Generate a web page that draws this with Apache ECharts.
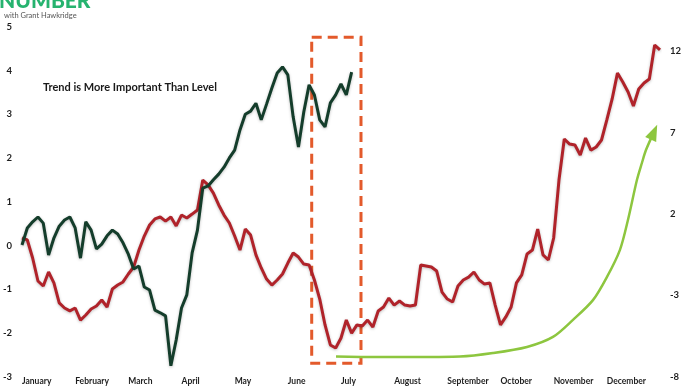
<!DOCTYPE html>
<html lang="en">
<head>
<meta charset="UTF-8">
<title>Trend is More Important Than Level</title>
<style>
    * { margin: 0; padding: 0; }
    body { background: #fff; }
    #main { width: 690px; height: 388px; }
</style>
<script src="https://cdn.jsdelivr.net/npm/echarts@6/dist/echarts.min.js"></script>
</head>
<body>
<div id="main"></div>
<script>
    // month labels, one per equal-width slot on the x axis
    var months = ['January', 'February', 'March', 'April', 'May', 'June',
        'July', 'August', 'September', 'October', 'November', 'December'];

    // one reading every 0.1 month
    var STEP = 0.1;

    // red line, right axis
    var red = [
        0.52, 0.40, -0.71, -2.12, -2.43, -1.57, -2.24, -3.47, -3.78, -3.96,
        -3.78, -4.52, -4.21, -3.84, -3.66, -3.29, -3.72, -2.61, -2.37, -2.18,
        -1.69, -1.26, -0.22, 0.64, 1.32, 1.69, 1.81, 1.56, 1.81, 1.26,
        1.93, 1.75, 1.99, 2.24, 4.08, 3.78, 3.28, 2.55, 1.93, 1.44,
        0.64, -0.22, 1.07, 0.70, -0.52, -1.32, -2.00, -2.37, -2.06, -1.69,
        -1.02, -0.40, -0.65, -1.08, -1.14, -2.06, -3.23, -4.82, -6.05, -6.24,
        -5.62, -4.52, -5.32, -4.82, -4.89, -4.52, -4.95, -3.96, -3.72, -3.17,
        -3.60, -3.35, -3.60, -3.66, -3.60, -1.14, -1.20, -1.26, -1.51, -2.80,
        -3.23, -3.41, -2.43, -2.06, -1.88, -1.57, -2.06, -2.31, -2.24, -3.60,
        -4.82, -4.33, -3.72, -2.24, -1.75, -0.46, -0.22, 1.07, -0.52, -0.83,
        0.52, 4.08, 6.60, 6.29, 6.23, 5.62, 6.66, 5.92, 6.11, 6.54,
        7.77, 9.06, 10.65, 10.10, 9.49, 8.63, 9.67, 10.04, 10.29, 12.37, 12.07
    ];

    // green line, left axis (stops early July)
    var green = [
        0.01, 0.40, 0.54, 0.65, 0.51, -0.22, 0.17, 0.44, 0.58, 0.65,
        0.40, -0.29, 0.54, 0.35, -0.08, 0.03, 0.22, 0.35, 0.26, 0.06,
        -0.20, -0.54, -0.47, -0.95, -1.02, -1.48, -1.54, -1.61, -2.75, -2.16,
        -1.43, -1.13, -0.17, 0.35, 1.31, 1.36, 1.50, 1.63, 1.79, 2.00,
        2.18, 2.64, 3.00, 3.07, 3.25, 2.87, 3.23, 3.60, 3.94, 4.08,
        3.90, 2.94, 2.25, 3.05, 3.67, 3.44, 2.87, 2.71, 3.26, 3.44,
        3.69, 3.44, 3.96
    ];

    // light green arrow (month, left axis value)
    var arrowX = [5.906, 6.733, 7.486, 8.238, 8.858, 9.498, 9.987, 10.363,
        10.739, 11.003, 11.247, 11.397, 11.567, 11.661, 11.736, 11.886];
    var arrowY = [-2.54, -2.55, -2.55, -2.54, -2.46, -2.32, -2.09, -1.70,
        -1.25, -0.72, -0.10, 0.58, 1.50, 1.89, 2.18, 2.59];

    // dashed highlight box (month, left axis value)
    var boxX = [5.449, 6.376];
    var boxY = [4.76, -2.69];

    var leftTicks = { min: -3, max: 5, interval: 1 };
    var rightTicks = { min: -8, max: 13.5, interval: 5 };

    var myChart = echarts.init(document.getElementById('main'));

    var labelFont = {
        color: '#1e1e1e',
        fontFamily: 'Lato',
        fontWeight: 'bold'
    };

    var arrowData = arrowX.map(function (x, i) {
        var item = { value: [x, arrowY[i]] };
        if (i === arrowX.length - 1) {
            item.symbol = 'triangle';
            item.symbolSize = [12, 16];
            item.symbolRotate = -24;
        }
        return item;
    });

    var option = {
        animation: false,
        backgroundColor: '#fff',
        title: {
            text: 'Trend is More Important Than Level',
            left: 43,
            top: 82,
            padding: 0,
            textStyle: {
                fontFamily: 'Lato',
                fontWeight: 'bold',
                fontSize: 11,
                color: '#1a1a1a'
            }
        },
        graphic: [
            {
                type: 'text',
                left: -1,
                top: -9,
                style: {
                    text: 'NUMBER',
                    font: '900 21px Lato',
                    fill: '#26b36f'
                }
            },
            {
                type: 'text',
                left: 4,
                top: 12,
                style: {
                    text: 'with Grant Hawkridge',
                    font: '7.5px Lato',
                    fill: '#555'
                }
            }
        ],
        grid: {
            left: 22,
            right: 30,
            top: 26.7,
            bottom: 11.3,
            containLabel: false,
            outerBoundsMode: 'none'
        },
        xAxis: {
            type: 'value',
            min: 0,
            max: 12,
            interval: 1,
            axisLine: { show: false },
            axisTick: { show: false },
            splitLine: { show: false },
            axisLabel: Object.assign({
                fontSize: 8.5,
                margin: 0,
                align: 'left',
                formatter: function (v) { return months[v] || ''; }
            }, labelFont)
        },
        yAxis: [
            {
                type: 'value',
                position: 'left',
                min: leftTicks.min,
                max: leftTicks.max,
                interval: leftTicks.interval,
                axisLine: { show: false },
                axisTick: { show: false },
                splitLine: { show: false },
                axisLabel: Object.assign({ fontSize: 9.5, margin: 10 }, labelFont)
            },
            {
                type: 'value',
                position: 'right',
                min: rightTicks.min,
                max: rightTicks.max,
                interval: rightTicks.interval,
                axisLine: { show: false },
                axisTick: { show: false },
                splitLine: { show: false },
                axisLabel: Object.assign({
                    fontSize: 9.5,
                    margin: 10,
                    showMaxLabel: false,
                    formatter: function (v) {
                        return (v - rightTicks.min) % rightTicks.interval === 0 ? String(v) : '';
                    }
                }, labelFont)
            }
        ],
        series: [
            {
                name: 'red',
                type: 'line',
                yAxisIndex: 1,
                symbol: 'none',
                lineStyle: {
                    color: '#b0232a',
                    width: 3,
                    shadowColor: 'rgba(0,0,0,0.25)',
                    shadowBlur: 3,
                    shadowOffsetY: 1
                },
                data: red.map(function (v, i) { return [i * STEP, v]; })
            },
            {
                name: 'green',
                type: 'line',
                yAxisIndex: 0,
                symbol: 'none',
                z: 3,
                lineStyle: {
                    color: '#143d2b',
                    width: 3,
                    shadowColor: 'rgba(0,0,0,0.25)',
                    shadowBlur: 3,
                    shadowOffsetY: 1
                },
                data: green.map(function (v, i) { return [i * STEP, v]; }),
                markArea: {
                    silent: true,
                    itemStyle: {
                        color: 'rgba(0,0,0,0)',
                        borderColor: '#e35a2b',
                        borderWidth: 3,
                        borderType: [10, 6]
                    },
                    data: [[
                        { coord: [boxX[0], boxY[0]] },
                        { coord: [boxX[1], boxY[1]] }
                    ]]
                }
            },
            {
                name: 'arrow',
                type: 'line',
                yAxisIndex: 0,
                smooth: 0.3,
                symbol: 'none',
                itemStyle: { color: '#8dc63f' },
                lineStyle: { color: '#8dc63f', width: 2.5 },
                data: arrowData
            }
        ]
    };

    myChart.setOption(option);
</script>
</body>
</html>
